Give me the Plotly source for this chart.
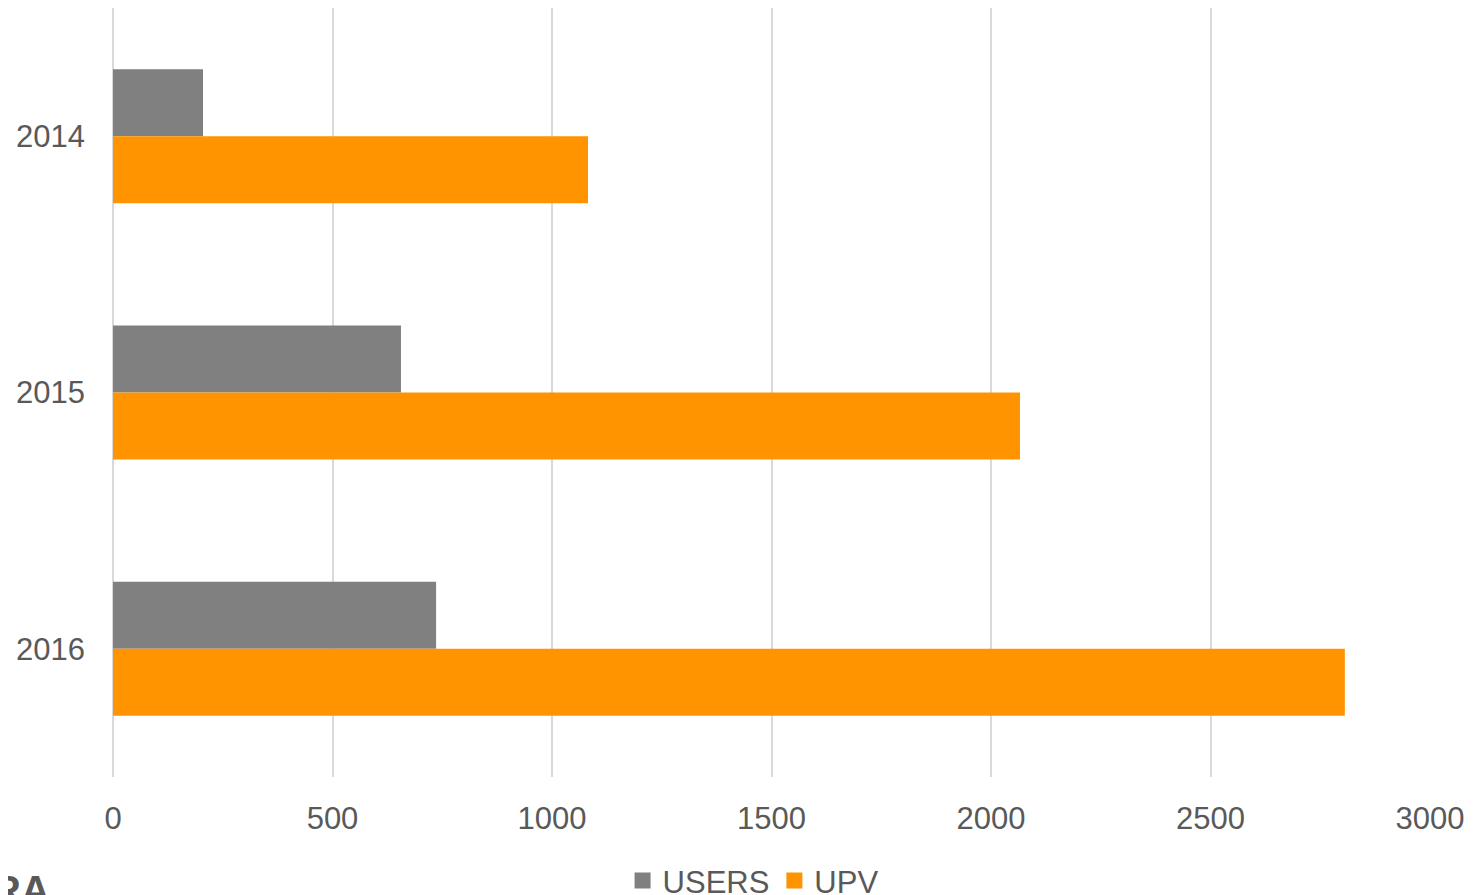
import plotly.graph_objects as go

years = ["2014", "2015", "2016"]
users = [205, 656, 736]
upv = [1082, 2066, 2806]
x_ticks = [0, 500, 1000, 1500, 2000, 2500, 3000]

series_names = ["USERS", "UPV"]
series_colors = ["#808080", "#FF9300"]

txt = "#595959"
font_family = "Liberation Sans, Arial, sans-serif"

fig = go.Figure()
for name, vals, col in zip(series_names, [users, upv], series_colors):
    fig.add_trace(go.Bar(y=years, x=vals, name=name, orientation="h", showlegend=False,
                         legendgroup=name, marker=dict(color=col, line=dict(width=0))))
# legend entries with larger square symbols
for name, col in zip(series_names, series_colors):
    fig.add_trace(go.Scatter(x=[None], y=[None], mode="markers", name=name, legendgroup=name,
                             marker=dict(symbol="square", size=17, color=col)))

fig.update_layout(
    width=1466, height=887,
    margin=dict(l=105, r=44, t=0, b=118, autoexpand=False),
    paper_bgcolor="white", plot_bgcolor="white",
    barmode="group", bargap=0.477, bargroupgap=0,
    font=dict(family=font_family, size=31, color=txt),
    showlegend=True,
    legend=dict(orientation="h", x=0.486, xanchor="center", y=-0.135, yanchor="middle",
                font=dict(size=31, color=txt), traceorder="normal",
                itemwidth=30, bgcolor="rgba(0,0,0,0)"),
    xaxis=dict(range=[0, 3000], tickvals=x_ticks, showgrid=True, gridcolor="#d9d9d9",
               gridwidth=2, zeroline=True, zerolinecolor="#d9d9d9", zerolinewidth=2,
               showline=False, ticks="", ticklabelstandoff=20, automargin=False,
               tickfont=dict(size=31, color=txt)),
    yaxis=dict(autorange="reversed", showgrid=False, showline=False, ticks="",
               ticklabelstandoff=27, automargin=False, tickfont=dict(size=31, color=txt)),
    annotations=[dict(text="<b>RA</b>", xref="paper", yref="paper",
                      x=-0.0934, y=-0.116, xanchor="left", yanchor="top",
                      showarrow=False, font=dict(size=40, color="#595959", family=font_family))],
)

fig.write_html("out.html")
